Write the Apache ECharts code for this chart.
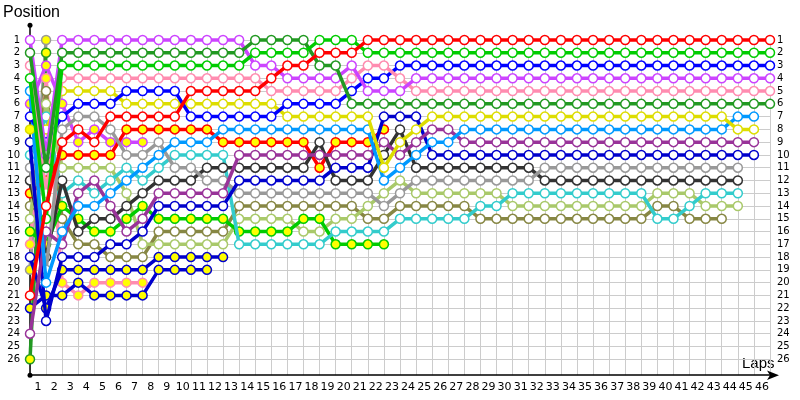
<!DOCTYPE html>
<html><head><meta charset="utf-8">
<script src="https://cdn.jsdelivr.net/npm/echarts/dist/echarts.min.js"></script>
<style>html,body{margin:0;padding:0;background:#fff}#c{width:800px;height:400px}</style>
</head><body><div id="c"></div>
<script>
const lapLabels = ['1','2','3','4','5','6','7','8','9','10','11','12','13','14','15','16','17','18','19','20','21','22','23','24','25','26','27','28','29','30','31','32','33','34','35','36','37','38','39','40','41','42','43','44','45','46'];
const positionLabels = [1,2,3,4,5,6,7,8,9,10,11,12,13,14,15,16,17,18,19,20,21,22,23,24,25,26];

// position per lap, index = lap (0 = start)
const red = [21,14,9,8,9,7,7,7,7,7,5,5,5,5,5,4,3,3,2,2,2,1,1,1,1,1,1,1,1,1,1,1,1,1,1,1,1,1,1,1,1,1,1,1,1,1,1];
const green = [4,15,3,3,3,3,3,3,3,3,3,3,3,3,2,2,2,2,1,1,1,2,2,2,2,2,2,2,2,2,2,2,2,2,2,2,2,2,2,2,2,2,2,2,2,2,2];
const darkGreen = [2,11,2,2,2,2,2,2,2,2,2,2,2,2,1,1,1,1,3,3,6,6,6,6,6,6,6,6,6,6,6,6,6,6,6,6,6,6,6,6,6,6,6,6,6,6,6];
const violet = [1,10,1,1,1,1,1,1,1,1,1,1,1,1,3,3,4,4,4,4,3,5,5,5,4,4,4,4,4,4,4,4,4,4,4,4,4,4,4,4,4,4,4,4,4,4,4];
const pink = [3,13,4,4,4,4,4,4,4,4,4,4,4,4,4,5,5,5,5,5,4,3,3,4,5,5,5,5,5,5,5,5,5,5,5,5,5,5,5,5,5,5,5,5,5,5,5];
const blue = [7,9,7,6,6,6,5,5,5,5,7,7,7,7,7,7,6,6,6,6,5,4,4,3,3,3,3,3,3,3,3,3,3,3,3,3,3,3,3,3,3,3,3,3,3,3,3];
const yellow = [8,8,5,5,5,5,6,6,6,6,6,6,6,6,6,6,7,7,7,7,7,7,11,9,8,7,7,7,7,7,7,7,7,7,7,7,7,7,7,7,7,7,7,7,8,8];
const lightBlue = [5,20,16,14,14,13,12,11,10,9,9,9,8,8,8,8,8,8,8,8,8,8,12,11,10,9,9,8,8,8,8,8,8,8,8,8,8,8,8,8,8,8,8,8,7,7];
const purple = [24,16,17,13,12,14,16,15,13,13,13,13,13,10,10,10,10,10,10,10,10,10,9,10,9,8,8,9,9,9,9,9,9,9,9,9,9,9,9,9,9,9,9,9,9,9];
const navy = [9,23,18,18,18,17,17,16,14,14,14,14,14,12,12,12,12,12,12,11,11,11,7,7,7,10,10,10,10,10,10,10,10,10,10,10,10,10,10,10,10,10,10,10,10,10];
const gray = [11,19,8,7,7,8,10,10,9,11,11,12,12,13,13,13,13,13,13,13,13,13,14,13,12,12,12,12,12,12,12,12,11,11,11,11,11,11,11,11,11,11,11,11,11];
const darkGray = [12,18,12,16,15,15,14,13,12,12,12,11,11,11,11,11,11,11,9,12,12,12,10,8,11,11,11,11,11,11,11,11,12,12,12,12,12,12,12,12,12,12,12,12,12];
const cyan = [10,7,13,12,13,12,11,12,11,10,10,10,10,17,17,17,17,17,17,16,16,16,16,15,15,15,15,15,14,14,13,13,13,13,13,13,13,13,13,15,15,14,13,13,13];
const lightOlive = [15,6,11,11,11,11,13,17,17,17,17,17,17,15,15,15,15,16,16,15,15,14,13,12,13,13,13,13,13,13,14,14,14,14,14,14,14,14,14,13,13,13,14,14,14];
const olive = [14,5,15,17,17,18,18,18,16,16,16,16,16,14,14,14,14,14,14,14,14,15,15,14,14,14,14,14,15,15,15,15,15,15,15,15,15,15,15,14,14,15,15,15];
const redOut = [13,12,10,10,10,10,8,8,8,8,8,8,9,9,9,9,9,9,11,9,9,9,8];
const greenOut = [16,17,14,15,16,16,15,14,15,15,15,15,15,16,16,16,16,15,15,17,17,17,17];
const navyOutA = [18,22,19,19,19,19,19,19,18,18,18,18,18];
const navyOutB = [22,21,21,20,21,21,21,21,19,19,19,19];
const pinkOut = [17,4,20,21,20,20,20,20];
const violetOut = [6,3,6,9,8,9,9,9];
const darkGreenOut = [26,2];
const grayOut = [19,1];

// laps whose marker fill differs from the rest of that driver's line
const yellowFilledLaps = [0];
const navyOutAHollowLaps = [0];

const finishers = [
  ['olive', olive, '#878744', []], ['lightOlive', lightOlive, '#a9c96a', []], ['cyan', cyan, '#33cccc', []],
  ['darkGray', darkGray, '#333333', []], ['gray', gray, '#999999', []], ['navy', navy, '#0000cc', []],
  ['purple', purple, '#993399', []], ['lightBlue', lightBlue, '#0099ff', []], ['yellow', yellow, '#dddd00', yellowFilledLaps],
  ['blue', blue, '#0000ff', []], ['pink', pink, '#ff8cb0', []], ['violet', violet, '#cc44ff', []],
  ['darkGreen', darkGreen, '#229922', []], ['green', green, '#00cc00', []], ['red', red, '#ff0000', []]
];
const retirees = [
  ['grayOut', grayOut, '#999999', []], ['darkGreenOut', darkGreenOut, '#229922', []], ['violetOut', violetOut, '#cc44ff', []],
  ['pinkOut', pinkOut, '#ff8cb0', []], ['navyOutB', navyOutB, '#0000cc', []], ['navyOutA', navyOutA, '#0000cc', navyOutAHollowLaps],
  ['greenOut', greenOut, '#00cc00', []], ['redOut', redOut, '#ff0000', []]
];

function mk(name, arr, color, filled, flip, z) {
  const base = filled ? '#ffff00' : '#ffffff';
  const other = filled ? '#ffffff' : '#ffff00';
  return {
    name, type: 'line', xAxisIndex: 0, yAxisIndex: 0, z,
    data: arr.map((p, i) => p == null ? null :
      (flip.indexOf(i) >= 0 ? { value: [i, p], itemStyle: { color: other } } : [i, p])).filter(d => d),
    symbol: 'circle', symbolSize: 9, showAllSymbol: true, animation: false,
    lineStyle: { width: 3.5, color },
    itemStyle: { color: base, borderColor: color, borderWidth: 1.5 },
    emphasis: { disabled: true }
  };
}
const series = [];
finishers.forEach((d, k) => series.push(mk(d[0], d[1], d[2], false, d[3], 10 + k)));
retirees.forEach((d, k) => series.push(mk(d[0], d[1], d[2], true, d[3], 5 + k)));

const u = 12.77;          // px per position
const yTop = 40;          // pixel of position 1
const chart = echarts.init(document.getElementById('c'), null, { renderer: 'canvas' });
chart.setOption({
  animation: false,
  backgroundColor: '#ffffff',
  grid: [
    { left: 30, width: 740, top: yTop - 1.15 * u, height: 27.4 * u },
    { left: 30, width: 740, top: yTop, height: 25 * u },
    { left: 30, width: 740, top: yTop, height: 26.25 * u }
  ],
  xAxis: [
    { type: 'value', gridIndex: 0, min: 0, max: 46, interval: 1, position: 'bottom',
      axisLine: { show: true, onZero: false, lineStyle: { color: '#000', width: 1.5 }, symbol: ['none', 'arrow'], symbolSize: [7, 12], symbolOffset: [0, 9] },
      axisTick: { show: false }, axisLabel: { show: false }, splitLine: { show: false } },
    { type: 'category', gridIndex: 0, data: lapLabels, boundaryGap: true, position: 'bottom',
      axisLine: { show: false, onZero: false }, axisTick: { show: false },
      axisLabel: { interval: 0, fontSize: 11, color: '#000', margin: 6, fontFamily: 'DejaVu Sans' } },
    { type: 'value', gridIndex: 1, min: 0, max: 46, show: false },
    { type: 'value', gridIndex: 2, min: 0, max: 46, interval: 1,
      axisLine: { show: false }, axisTick: { show: false }, axisLabel: { show: false },
      splitLine: { show: true, lineStyle: { color: '#cccccc', width: 1 } } }
  ],
  yAxis: [
    { type: 'value', gridIndex: 0, inverse: true, min: -0.15, max: 27.25,
      axisLine: { show: true, onZero: false, lineStyle: { color: '#000', width: 1.5 }, symbol: ['circle', 'circle'], symbolSize: [5, 5] },
      axisTick: { show: false }, axisLabel: { show: false }, splitLine: { show: false } },
    { type: 'value', gridIndex: 1, inverse: true, min: positionLabels[0], max: positionLabels[positionLabels.length - 1], interval: 1,
      axisLine: { show: false }, axisTick: { show: false },
      axisLabel: { fontSize: 10, color: '#000', margin: 10, fontFamily: 'DejaVu Sans' },
      splitLine: { show: true, lineStyle: { color: '#cccccc', width: 1 } } },
    { type: 'value', gridIndex: 1, inverse: true, position: 'right', min: positionLabels[0], max: positionLabels[positionLabels.length - 1], interval: 1,
      axisLine: { show: false }, axisTick: { show: false },
      axisLabel: { fontSize: 10, color: '#000', margin: 7, fontFamily: 'DejaVu Sans' },
      splitLine: { show: false } },
    { type: 'value', gridIndex: 2, min: 0, max: 1, show: false }
  ],
  graphic: [
    { type: 'text', left: 3, top: 5, style: { text: 'Position', font: '16px "Liberation Sans", Arial, sans-serif', fill: '#000' } },
    { type: 'text', left: 742, top: 356, style: { text: 'Laps', font: '15px "Liberation Sans", Arial, sans-serif', fill: '#000' } }
  ],
  series
});
</script>
</body></html>
